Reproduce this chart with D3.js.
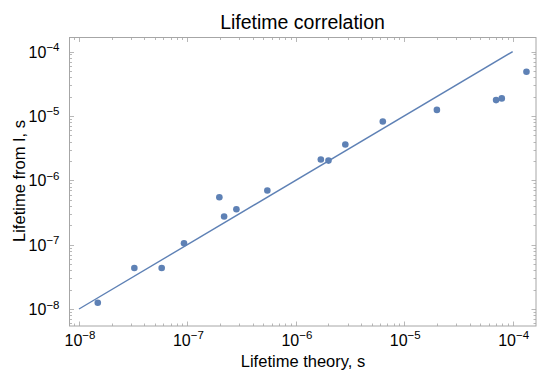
<!DOCTYPE html>
<html lang="en">
<head>
    <meta charset="UTF-8">
    <title>Lifetime correlation</title>
    <script src="https://d3js.org/d3.v7.min.js"></script>
</head>

<style>
    body { margin: 0; background: #fff; }
    text { font-family: "Liberation Sans", Arial, sans-serif; fill: #000; }
    .frame { fill: none; stroke: #a6a6a6; stroke-width: 1px; }
    .tick-line { stroke: #b8b8b8; stroke-width: 1px; }
</style>

<body>
<svg width="550" height="382"></svg>

<script>
    // measured values (seconds)
    var theory = [1.49e-8, 3.24e-8, 5.79e-8, 9.3e-8, 1.97e-7, 2.18e-7, 2.83e-7, 5.46e-7,
                  1.70e-6, 2.0e-6, 2.86e-6, 6.34e-6, 2.0e-5, 7.03e-5, 7.93e-5, 1.34e-4];
    var fromI = [1.25e-8, 4.34e-8, 4.34e-8, 1.05e-7, 5.46e-7, 2.73e-7, 3.55e-7, 6.92e-7,
                 2.10e-6, 2.02e-6, 3.59e-6, 8.18e-6, 1.24e-5, 1.76e-5, 1.87e-5, 4.85e-5];
    var lineX = [1e-8, 1e-4];
    var majorTicks = [1e-8, 1e-7, 1e-6, 1e-5, 1e-4];

    var svg = d3.select("svg");
    var pLeft = 69.5, pRight = 536, pTop = 37.5, pBottom = 326;

    var x = d3.scaleLog().domain([Math.pow(10, -8.0876), Math.pow(10, -3.785)]).range([pLeft, pRight]);
    var y = d3.scaleLog().domain([Math.pow(10, -8.264), Math.pow(10, -3.782)]).range([pBottom, pTop]);

    // minor ticks 2..9 per decade
    function minorList(scale) {
        var out = [];
        var d = scale.domain();
        for (var e = -9; e <= -3; e++) {
            for (var m = 2; m <= 9; m++) {
                var v = m * Math.pow(10, e);
                if (v > d[0] && v < d[1]) out.push(v);
            }
        }
        return out;
    }

    var ticks = svg.append("g");
    function tick(x1, y1, x2, y2) {
        ticks.append("line").attr("class", "tick-line")
            .attr("x1", x1).attr("y1", y1).attr("x2", x2).attr("y2", y2);
    }
    majorTicks.forEach(function (v) {
        var px = Math.round(x(v)) + 0.5, py = Math.round(y(v)) + 0.5;
        tick(px, pBottom, px, pBottom - 4.5);
        tick(px, pTop, px, pTop + 4.5);
        tick(pLeft, py, pLeft + 4.5, py);
        tick(pRight, py, pRight - 4.5, py);
    });
    minorList(x).forEach(function (v) {
        var px = Math.round(x(v)) + 0.5;
        tick(px, pBottom, px, pBottom - 2.5);
        tick(px, pTop, px, pTop + 2.5);
    });
    minorList(y).forEach(function (v) {
        var py = Math.round(y(v)) + 0.5;
        tick(pLeft, py, pLeft + 2.5, py);
        tick(pRight, py, pRight - 2.5, py);
    });

    svg.append("rect").attr("class", "frame")
        .attr("x", pLeft).attr("y", pTop)
        .attr("width", pRight - pLeft).attr("height", pBottom - pTop);

    // tick labels 10^n
    function powLabel(v) {
        var e = Math.round(Math.log10(v));
        var t = svg.append("text").style("font-size", "16px");
        t.append("tspan").text("10");
        t.append("tspan").attr("dy", -6.5).style("font-size", "11.5px").text("\u2212" + Math.abs(e));
        return t;
    }

    majorTicks.forEach(function (v) {
        powLabel(v).attr("x", x(v) + 1).attr("y", pBottom + 19.5).attr("text-anchor", "middle");
        powLabel(v).attr("x", pLeft - 10).attr("y", y(v) + 6).attr("text-anchor", "end");
    });

    // fit line
    var line = d3.line().x(function (d) { return x(d); }).y(function (d) { return y(d); });
    svg.append("path")
        .datum(lineX)
        .attr("d", line)
        .attr("fill", "none")
        .attr("stroke", "#5e81b5")
        .attr("stroke-width", 1.4);

    // data points
    svg.append("g").selectAll("circle")
        .data(theory)
        .enter().append("circle")
        .attr("cx", function (d) { return x(d); })
        .attr("cy", function (d, i) { return y(fromI[i]); })
        .attr("r", 3.3)
        .attr("fill", "#5e81b5");

    svg.append("text")
        .attr("x", 302.5).attr("y", 28.5)
        .attr("text-anchor", "middle")
        .style("font-size", "19.5px")
        .text("Lifetime correlation");

    svg.append("text")
        .attr("x", 303).attr("y", 367)
        .attr("text-anchor", "middle")
        .style("font-size", "16.5px")
        .text("Lifetime theory, s");

    svg.append("text")
        .attr("transform", "translate(25,181) rotate(-90)")
        .attr("text-anchor", "middle")
        .style("font-size", "16.5px")
        .text("Lifetime from I, s");
</script>
</body>
</html>
